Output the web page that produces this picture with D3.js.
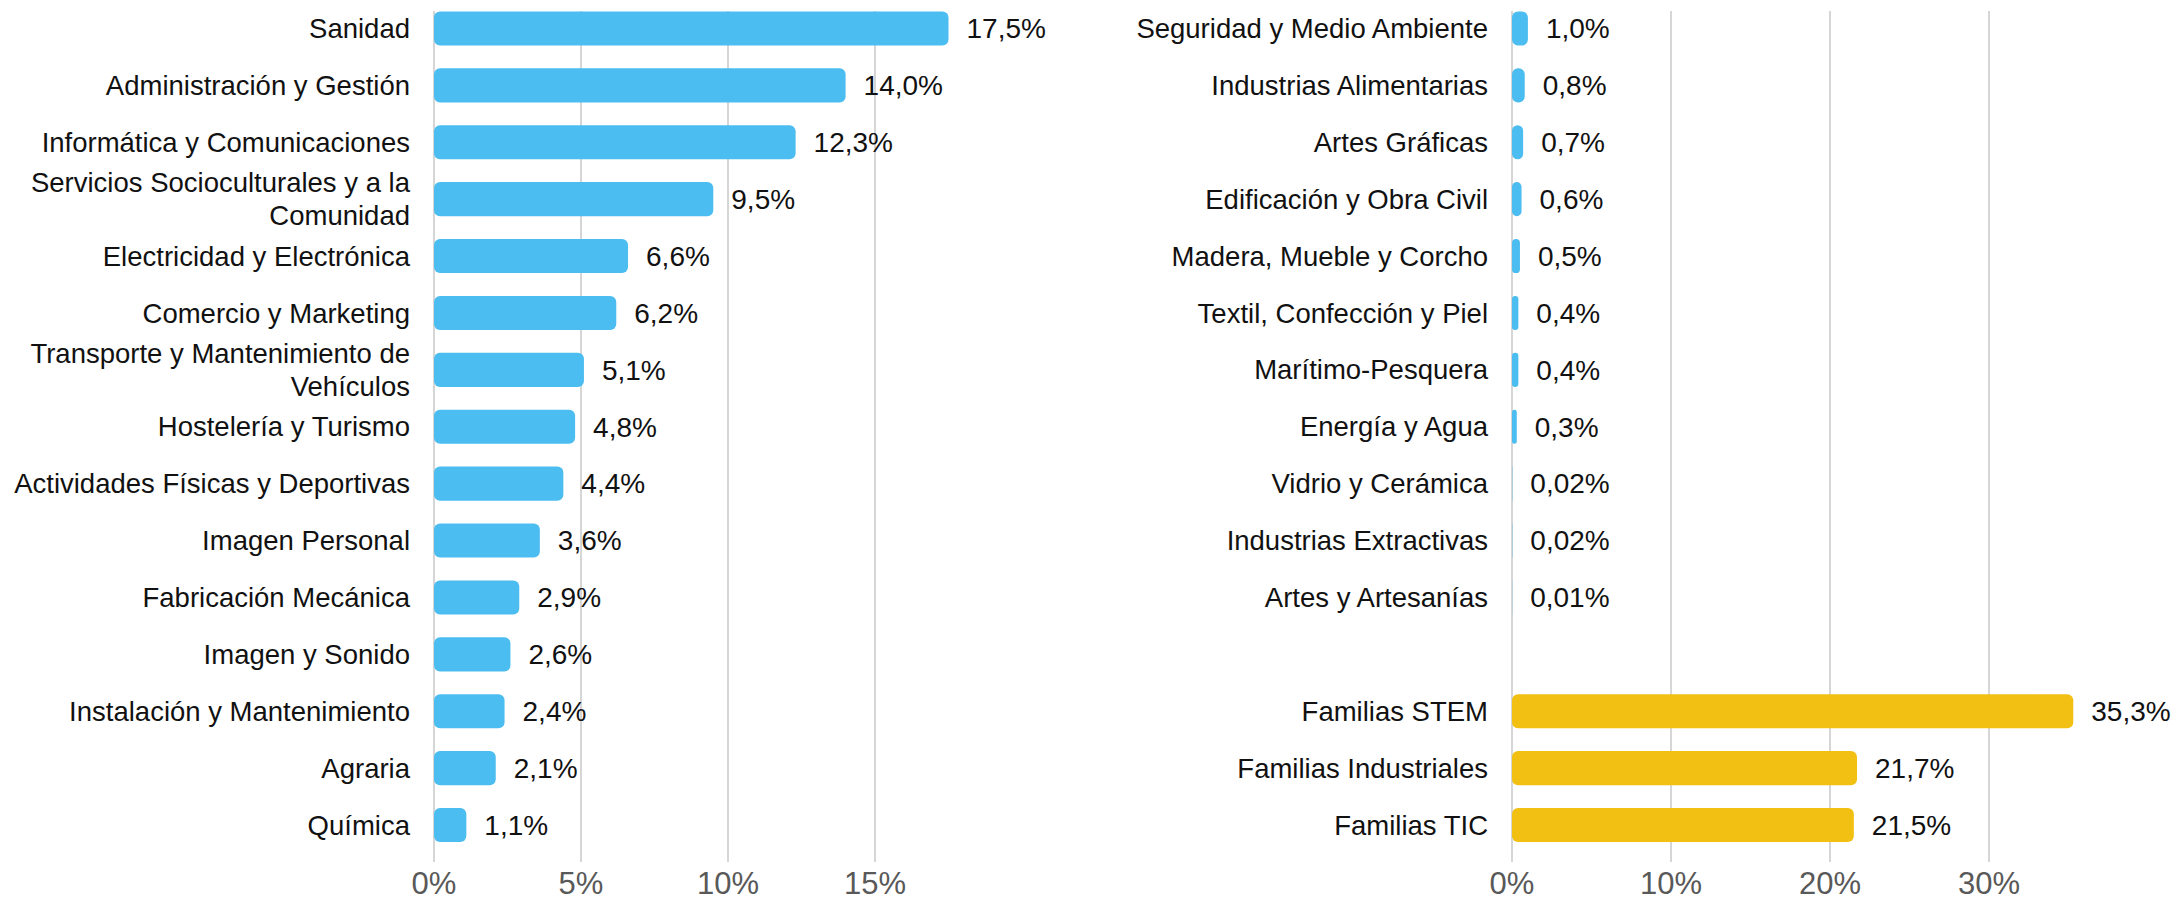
<html><head>
<style>
body {
  margin: 0;
  padding: 0;
  background-color: white;
  font-family: 'Liberation Sans', Arial, sans-serif;
}
svg text { font-family: 'Liberation Sans', Arial, sans-serif; }
</style>
</head>
<body>
<svg id="chart" width="2175" height="902"></svg>

<script src="https://d3js.org/d3.v7.min.js"></script>
<script>
// left panel: families by share
const leftCategories = [
  "Sanidad", "Administración y Gestión", "Informática y Comunicaciones",
  "Servicios Socioculturales y a la Comunidad", "Electricidad y Electrónica",
  "Comercio y Marketing", "Transporte y Mantenimiento de Vehículos",
  "Hostelería y Turismo", "Actividades Físicas y Deportivas", "Imagen Personal",
  "Fabricación Mecánica", "Imagen y Sonido", "Instalación y Mantenimiento",
  "Agraria", "Química"
];
const leftValues = [17.5, 14.0, 12.3, 9.5, 6.6, 6.2, 5.1, 4.8, 4.4, 3.6, 2.9, 2.6, 2.4, 2.1, 1.1];
const leftTicks = [0, 5, 10, 15];

// right panel: remaining families + grouped totals
const rightCategories = [
  "Seguridad y Medio Ambiente", "Industrias Alimentarias", "Artes Gráficas",
  "Edificación y Obra Civil", "Madera, Mueble y Corcho", "Textil, Confección y Piel",
  "Marítimo-Pesquera", "Energía y Agua", "Vidrio y Cerámica",
  "Industrias Extractivas", "Artes y Artesanías"
];
const rightValues = [1.0, 0.8, 0.7, 0.6, 0.5, 0.4, 0.4, 0.3, 0.02, 0.02, 0.01];
const groupCategories = ["Familias STEM", "Familias Industriales", "Familias TIC"];
const groupValues = [35.3, 21.7, 21.5];
const rightTicks = [0, 10, 20, 30];

const blue = "#4bbdf0";
const yellow = "#f2c012";
const gridColor = "#c8c8c8";

const svg = d3.select("#chart");
const fmtPct = v => (v < 0.1 ? d3.format(".2f")(v) : d3.format(".1f")(v)).replace(".", ",") + "%";

const y = d3.scaleBand()
  .domain(d3.range(15))
  .range([0, 853.5])
  .paddingInner(0.4)
  .paddingOuter(0.2);

const gridTop = 11, gridBottom = 862;
const catSize = 27.5;

function panel(x, ticks, rows) {
  const g = svg.append("g");

  // gridlines
  g.selectAll("line.grid")
    .data(ticks)
    .join("line")
    .attr("class", "grid")
    .attr("x1", d => x(d)).attr("x2", d => x(d))
    .attr("y1", gridTop).attr("y2", gridBottom)
    .attr("stroke", gridColor)
    .attr("stroke-width", 1.5);

  // axis labels
  g.selectAll("text.tick")
    .data(ticks)
    .join("text")
    .attr("class", "tick")
    .attr("x", d => x(d))
    .attr("y", 883)
    .attr("dy", "0.35em")
    .attr("text-anchor", "middle")
    .attr("font-size", 31)
    .attr("fill", "#595959")
    .text(d => d + "%");

  // bars
  g.selectAll("rect.bar")
    .data(rows)
    .join("rect")
    .attr("class", "bar")
    .attr("x", x(0))
    .attr("y", d => y(d.i))
    .attr("width", d => x(d.v) - x(0))
    .attr("height", y.bandwidth())
    .attr("rx", d => Math.min(6, (x(d.v) - x(0)) / 2))
    .attr("fill", d => d.color);

  // value labels
  g.selectAll("text.val")
    .data(rows)
    .join("text")
    .attr("class", "val")
    .attr("x", d => x(d.v) + 18)
    .attr("y", d => y(d.i) + y.bandwidth() / 2)
    .attr("dy", "0.35em")
    .attr("font-size", 28)
    .attr("fill", "#111")
    .text(d => fmtPct(d.v));

  // category labels, wrapped when too long
  const labels = g.selectAll("text.cat")
    .data(rows)
    .join("text")
    .attr("class", "cat")
    .attr("x", x(0) - 24)
    .attr("y", d => y(d.i) + y.bandwidth() / 2)
    .attr("text-anchor", "end")
    .attr("font-size", catSize)
    .attr("fill", "#111");

  labels.each(function(d) {
    const t = d3.select(this);
    const words = d.name.split(" ");
    let lines = [], line = [];
    const probe = t.append("tspan");
    words.forEach(w => {
      line.push(w);
      probe.text(line.join(" "));
      if (probe.node().getComputedTextLength() > 405 && line.length > 1) {
        line.pop();
        lines.push(line.join(" "));
        line = [w];
      }
    });
    lines.push(line.join(" "));
    probe.remove();
    const off = (lines.length - 1) * 16.5;
    lines.forEach((l, k) => {
      t.append("tspan")
        .attr("x", x(0) - 24)
        .attr("dy", k === 0 ? (0.35 * catSize - off) : 33)
        .text(l);
    });
  });
}

const xLeft = d3.scaleLinear().domain([0, 20]).range([434, 1022]);
const xRight = d3.scaleLinear().domain([0, 40]).range([1512, 2148]);

const leftRows = leftCategories.map((name, i) => ({ name, v: leftValues[i], i, color: blue }));
const rightRows = rightCategories.map((name, i) => ({ name, v: rightValues[i], i, color: blue }))
  .concat(groupCategories.map((name, k) => ({ name, v: groupValues[k], i: rightCategories.length + 1 + k, color: yellow })));

panel(xLeft, leftTicks, leftRows);
panel(xRight, rightTicks, rightRows);
</script>
</body>
</html>
